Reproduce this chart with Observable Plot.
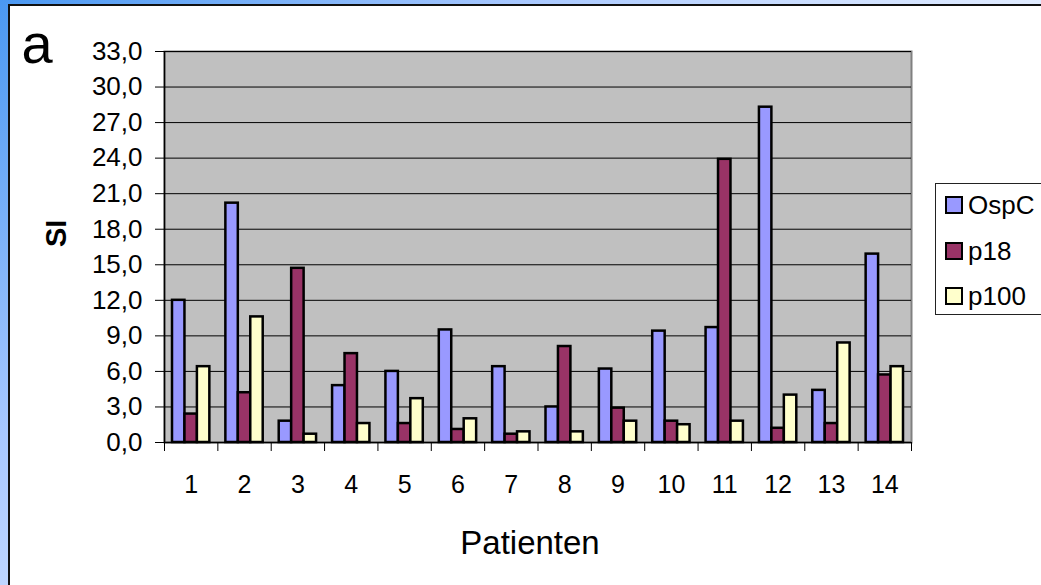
<!DOCTYPE html>
<html>
<head>
<meta charset="utf-8">
<script src="https://cdn.jsdelivr.net/npm/d3@7"></script>
<script src="https://cdn.jsdelivr.net/npm/@observablehq/plot@0.6"></script>
<style>
  html, body { margin: 0; padding: 0; width: 1041px; height: 585px; overflow: hidden; }
  body {
    position: relative;
    background: linear-gradient(140deg, #4a98f2 0%, #78b0f8 15%, #a8c8ff 30%, #c8dcff 45%, #e0ebff 60%, #f4f8ff 100%);
    font-family: "Liberation Sans", Arial, sans-serif;
  }
  #panel {
    position: absolute; left: 8px; top: 4px; width: 1100px; height: 650px;
    border: 2px solid #111; background: #fff;
  }
  #chart { position: absolute; left: 0; top: 0; }
  #legend {
    position: absolute; left: 935px; top: 183px; width: 140px; height: 132px;
    border: 1px solid #222; background: #fff; box-sizing: border-box;
  }
  .item { position: absolute; left: 9px; height: 18px; display: flex; align-items: center; }
  .sw { width: 14px; height: 14px; border: 2px solid #000; }
  .lab { margin-left: 5px; font-size: 26px; color: #000; line-height: 18px; }
</style>
</head>
<body>
<div id="panel"></div>
<div id="chart"></div>
<div id="legend"></div>
<script>
// ---- data ----
const patients = [1, 2, 3, 4, 5, 6, 7, 8, 9, 10, 11, 12, 13, 14];
const seriesNames = ["OspC", "p18", "p100"];
const ospc = [12.0, 20.2, 1.8, 4.8, 6.0, 9.5, 6.4, 3.0, 6.2, 9.4, 9.7, 28.3, 4.4, 15.9];
const p18  = [2.4, 4.2, 14.7, 7.5, 1.6, 1.1, 0.7, 8.1, 2.9, 1.8, 23.9, 1.2, 1.6, 5.7];
const p100 = [6.4, 10.6, 0.7, 1.6, 3.7, 2.0, 0.9, 0.9, 1.8, 1.5, 1.8, 4.0, 8.4, 6.4];
const yTicks = [0, 3, 6, 9, 12, 15, 18, 21, 24, 27, 30, 33];
const seriesColors = ["#9999ff", "#993366", "#ffffcc"];
const xTitle = "Patienten";
const yTitle = "SI";
const panelLabel = "a";

// ---- build table ----
const valuesBySeries = [ospc, p18, p100];
const rows = patients.flatMap((p, i) =>
  seriesNames.map((s, j) => ({patient: p, series: s, k: j, value: valuesBySeries[j][i]})));

const groupW = 0.7;
const barW = groupW / seriesNames.length;
const boundaries = patients.map(p => p - 0.5).concat([patients[patients.length - 1] + 0.5]);
const fmt = d => d3.format(".1f")(d).replace(".", ",");

const chart = Plot.plot({
  width: 1041,
  height: 585,
  marginLeft: 164,
  marginRight: 130,
  marginTop: 51,
  marginBottom: 143,
  style: {background: "transparent", fontFamily: "'Liberation Sans', Arial, sans-serif", color: "#000", overflow: "visible"},
  x: {domain: [boundaries[0], boundaries[boundaries.length - 1]], axis: null},
  y: {domain: [0, 33], axis: null},
  color: {domain: seriesNames, range: seriesColors},
  marks: [
    Plot.frame({fill: "#c0c0c0", stroke: "#808080", strokeWidth: 2}),
    Plot.ruleY(yTicks.filter(t => t > 0), {stroke: "#000", strokeWidth: 1}),
    Plot.rectY(rows, {
      x1: d => d.patient - groupW / 2 + d.k * barW,
      x2: d => d.patient - groupW / 2 + (d.k + 1) * barW,
      y1: 0,
      y2: "value",
      fill: "series",
      stroke: "#000",
      strokeWidth: 2.5
    }),
    Plot.ruleX([boundaries[0]], {stroke: "#000", strokeWidth: 1.5}),
    Plot.ruleY([0], {stroke: "#000", strokeWidth: 1.5}),
    Plot.axisY({ticks: yTicks, tickSize: 9, tickPadding: 13, tickFormat: fmt, fontSize: 26, label: null}),
    Plot.axisX({ticks: boundaries, tickSize: 9, tickFormat: () => "", tickPadding: 0, label: null}),
    Plot.axisX({ticks: patients, tickSize: 0, tickPadding: 33, fontSize: 25, label: null}),
    Plot.text([yTitle], {text: d => d, frameAnchor: "left", dx: -108, rotate: -90, fontWeight: "bold", fontSize: 29}),
    Plot.text([xTitle], {text: d => d, frameAnchor: "bottom", dx: -8, dy: 111, lineAnchor: "bottom", fontSize: 33}),
    Plot.text([panelLabel], {text: d => d, frameAnchor: "top-left", textAnchor: "start", lineAnchor: "bottom", dx: -143, dy: 11, fontSize: 56})
  ]
});
document.getElementById("chart").appendChild(chart);

// ---- legend ----
const legend = document.getElementById("legend");
seriesNames.forEach((s, j) => {
  const item = document.createElement("div");
  item.className = "item";
  item.style.top = (12 + j * 45.5) + "px";
  const sw = document.createElement("div");
  sw.className = "sw";
  sw.style.background = seriesColors[j];
  const lab = document.createElement("span");
  lab.className = "lab";
  lab.textContent = s;
  item.appendChild(sw);
  item.appendChild(lab);
  legend.appendChild(item);
});
</script>
</body>
</html>
